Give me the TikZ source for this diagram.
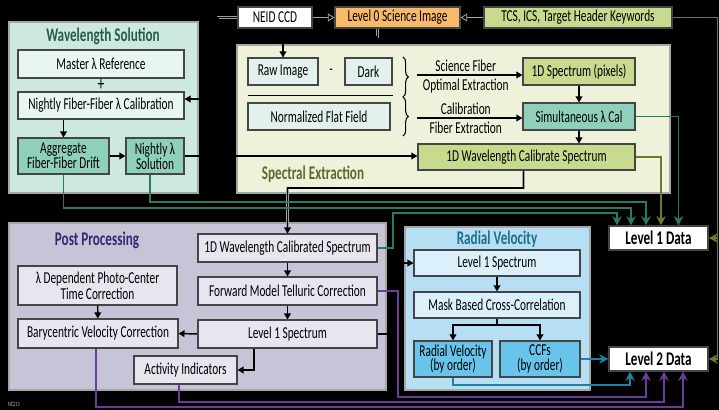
\documentclass[tikz,border=0pt]{standalone}
\usepackage{fontspec}
\setmainfont[FakeStretch=0.68]{Carlito}
\usepackage{tikz}
\usetikzlibrary{calc}
\usetikzlibrary{positioning}
\usetikzlibrary{arrows.meta}
\usetikzlibrary{decorations.pathreplacing}
\definecolor{wsfill}{HTML}{CDE8DF}
\definecolor{wslight}{HTML}{E9F5F1}
\definecolor{wsdark}{HTML}{8FD0BD}
\definecolor{wstext}{HTML}{245E4A}
\definecolor{spfill}{HTML}{EEF2DA}
\definecolor{splight}{HTML}{E3F1EE}
\definecolor{spolive}{HTML}{C8DA8E}
\definecolor{sptext}{HTML}{5B6B2C}
\definecolor{ppfill}{HTML}{C8C4D8}
\definecolor{pplight}{HTML}{E7E5EF}
\definecolor{pptext}{HTML}{2E2A70}
\definecolor{rvfill}{HTML}{B7DFF4}
\definecolor{rvlight}{HTML}{DCF0FB}
\definecolor{rvdark}{HTML}{68C4EA}
\definecolor{rvtext}{HTML}{1E6E8C}
\definecolor{lzfill}{HTML}{F8B969}
\definecolor{boxline}{HTML}{454545}
\definecolor{greenline}{HTML}{2A7A5E}
\definecolor{oliveline}{HTML}{6B7A2C}
\definecolor{purpleline}{HTML}{6A3D9A}
\definecolor{blueline}{HTML}{1F7FA6}
\newcommand{\unitpx}{0.75pt}
\tikzset{
	every node/.style={font=\fontsize{12.5}{13}\selectfont},
	sz/.style 2 args={minimum width=#1*\unitpx, minimum height=#2*\unitpx},
	box/.style={draw=boxline, line width=0.8pt, inner sep=0pt, align=center},
	panel/.style={draw=gray!70, line width=0.8pt, inner sep=0pt},
	ptitle/.style={font=\fontsize{14.5}{15}\selectfont\bfseries},
	leveldata/.style={box, fill=white, font=\fontsize{14.5}{15}\selectfont\bfseries},
	blk/.style={draw=black, line width=1.1pt, -{Triangle[length=4.5pt,width=5pt]}},
	halo/.style={preaction={draw=gray!75, line width=2.2pt, arrows=-}},
	feed/.style={draw=gray!70, line width=0.6pt, -{Triangle[open,length=5pt,width=6pt]}},
	colline/.style={draw=#1, line width=1.4pt, -{Stealth[length=7pt,width=7pt]}}
}

\begin{document}
\begin{tikzpicture}[x=\unitpx, y=-\unitpx]
	\fill[black] (0,0) rectangle (719,410);
	\useasboundingbox (0,0) rectangle (719,410);
	\node[panel, fill=wsfill, sz={189}{171}] (wspanel) at (103.5,107.5) {};
	\node[panel, fill=spfill, sz={433}{148}] (sppanel) at (453.5,119) {};
	\node[panel, fill=ppfill, sz={377}{167}] (pppanel) at (197.5,306.5) {};
	\node[panel, fill=rvfill, sz={185}{163}] (rvpanel) at (497.5,308.5) {};
	\node[ptitle, text=wstext] (wstitle) at (103,36) {Wavelength Solution};
	\node[ptitle, text=sptext] (sptitle) at (313,174) {Spectral Extraction};
	\node[ptitle, text=pptext] (pptitle) at (97,240) {Post Processing};
	\node[ptitle, text=rvtext] (rvtitle) at (497,239) {Radial Velocity};

	\node[box, fill=white, sz={74}{21}] (neid) at (275,17.5) {NEID CCD};
	\node[box, fill=lzfill, sz={125}{21}] (lvlzero) at (397.5,17.5) {Level 0 Science Image};
	\node[box, fill=spolive, sz={188}{21}] (tcs) at (578,17.5) {TCS, ICS, Target Header Keywords};

	\node[box, fill=wslight, sz={166}{28}] (master) at (101,64) {Master λ Reference};
	\node[font=\fontsize{15}{15}\selectfont] (plus) at (101,85) {+};
	\node[box, fill=wslight, sz={166}{27}] (nightcal) at (101,105.5) {Nightly Fiber-Fiber λ Calibration};
	\node[box, fill=wsdark, sz={91}{36}] (aggr) at (63.5,156) {Aggregate\\[-2pt]Fiber-Fiber Drift};
	\node[box, fill=wsdark, sz={58}{36}] (nightsol) at (155,156) {Nightly λ\\[-2pt]Solution};

	\node[box, fill=splight, sz={70}{27}] (raw) at (283,71.5) {Raw Image};
	\node (minus) at (331,71.5) {-};
	\node[box, fill=splight, sz={47}{27}] (dark) at (368.5,71.5) {Dark};
	\node[box, fill=splight, sz={142}{27}] (flat) at (319,116.5) {Normalized Flat Field};
	\node[box, fill=spolive, sz={112}{27}] (specpix) at (579,71.5) {1D Spectrum (pixels)};
	\node[box, fill=wsdark, sz={112}{27}] (simcal) at (579,116.5) {Simultaneous λ Cal};
	\node[box, fill=spolive, sz={217}{26}] (wcs) at (526.5,157) {1D Wavelength Calibrate Spectrum};

	\node[box, fill=pplight, sz={179}{28}] (ppwcs) at (287.5,248) {1D Wavelength Calibrated Spectrum};
	\node[box, fill=pplight, sz={179}{28}] (telluric) at (287.5,291) {Forward Model Telluric Correction};
	\node[box, fill=pplight, sz={179}{28}] (pplone) at (287.5,334) {Level 1 Spectrum};
	\node[box, fill=pplight, sz={159}{39}] (photo) at (97.5,285.5) {λ Dependent Photo-Center\\[-1pt]Time Correction};
	\node[box, fill=pplight, sz={160}{29}] (bary) at (98,333.5) {Barycentric Velocity Correction};
	\node[box, fill=pplight, sz={103}{28}] (activ) at (185.5,370) {Activity Indicators};

	\node[box, fill=rvlight, sz={166}{26}] (rvlone) at (497,263) {Level 1 Spectrum};
	\node[box, fill=rvlight, sz={166}{26}] (mask) at (497,305) {Mask Based Cross-Correlation};
	\node[box, fill=rvdark, sz={78}{36}] (rvorder) at (453,359) {Radial Velocity\\[-2pt](by order)};
	\node[box, fill=rvdark, sz={80}{36}] (ccf) at (540,359) {CCFs\\[-2pt](by order)};

	\node[leveldata, sz={99}{24}] (lvlone) at (658.5,238) {Level 1 Data};
	\node[leveldata, sz={99}{24}] (lvltwo) at (658.5,359) {Level 2 Data};
	\node[text=gray!60, font=\fontsize{5}{6}\selectfont] (figid) at (14,404) {NE215};

	\draw[black, line width=1.3pt] ($(raw.south west)+(1,10)$) -- ($(dark.south east)+(0,10)$);
	\draw[decorate, decoration={brace, amplitude=4pt}, line width=0.8pt] (403,57) -- (403,97);
	\draw[decorate, decoration={brace, amplitude=4pt}, line width=0.8pt] (403,97) -- (403,136);
	\coordinate (scistart) at (417,75);
	\coordinate (calstart) at (417,118);
	\draw[blk] (scistart) -- node[above=-1pt, xshift=-3pt] (scilabel) {Science Fiber} node[below=-1pt, xshift=-3pt] (optlabel) {Optimal Extraction} (scistart -| specpix.west);
	\draw[blk] (calstart) -- node[above=-1pt, xshift=-3pt] (callabel) {Calibration} node[below=-1pt, xshift=-3pt] (fiblabel) {Fiber Extraction} (calstart -| simcal.west);

	\draw[feed] (neid) -- (lvlzero);
	\draw[feed] (tcs) -- (lvlzero);
	\coordinate (ccdturn) at (218,99);
	\draw[blk, halo] (neid.west) -| (ccdturn) -- (ccdturn -| nightcal.east);
	\coordinate (rawturn) at (283,37);
	\draw[blk, halo] ($(lvlzero.south)+(-20,0)$) |- (rawturn) -- (raw.north);

	\draw[blk] (nightcal.south -| aggr.north) -- (aggr.north);
	\draw[blk] (aggr) -- (nightsol);
	\draw[blk] (specpix) -- (simcal);
	\draw[blk] (simcal) -- (simcal.south |- wcs.north);
	\draw[blk] (nightsol.east) -- (nightsol.east -| wcs.west);
	\coordinate (wcsturn) at (287.5,188);
	\draw[blk, halo] ($(wcs.south)+(-3,0)$) |- (wcsturn) -- (ppwcs.north);

	\draw[blk] (ppwcs) -- (telluric);
	\draw[blk] (telluric) -- (pplone);
	\draw[blk] (photo) -- (bary);
	\draw[blk] (pplone.west) -- (bary.east);
	\draw[blk] ($(pplone.south)+(-33.5,0)$) |- (activ.east);
	\coordinate (rvturn) at (388,263);
	\draw[blk, halo] (pplone.east) -| (rvturn) -- (rvlone.west);

	\draw[blk] (rvlone) -- (mask);
	\coordinate (maskturn) at (497,325);
	\draw[blk] (mask.south) -- (maskturn) -| (rvorder.north);
	\draw[blk] (maskturn) -| (ccf.north);

	\coordinate (ppgreen) at (393,213);
	\draw[colline=greenline] (ppwcs.east) -| (ppgreen) -| ($(lvlone.north)+(-41.5,0)$);
	\coordinate (aggrgreen) at (63.5,208);
	\draw[colline=greenline] (aggr.south) -- (aggrgreen) -| ($(lvlone.north)+(-27.5,0)$);
	\coordinate (solgreen) at (150,202);
	\draw[colline=greenline] ($(nightsol.south)+(-5,0)$) -- (solgreen) -| ($(lvlone.north)+(-12.5,0)$);
	\draw[colline=oliveline] (wcs.east) -| ($(lvlone.north)+(2.5,0)$);
	\draw[colline=greenline] (simcal.east) -| ($(lvlone.north)+(20,0)$);

	\coordinate (tcsturn) at (717.5,17.5);
	\draw[colline=oliveline] (tcs.east) -- (tcsturn) |- (lvlone.east);
	\draw[colline=oliveline] (tcsturn) |- (lvltwo.east);

	\draw[colline=blueline] (ccf.east) -- (lvltwo.west);
	\coordinate (rvblue) at (453,385);
	\draw[colline=blueline] (rvorder.south) -- (rvblue) -| ($(lvltwo.south)+(-28.5,0)$);
	\coordinate (tellpurple) at (398,397);
	\draw[colline=purpleline] (telluric.east) -| (tellpurple) -| ($(lvltwo.south)+(-12.5,0)$);
	\coordinate (activpurple) at (179,402);
	\draw[colline=purpleline] ($(activ.south)+(-6.5,0)$) -- (activpurple) -| ($(lvltwo.south)+(5.5,0)$);
	\coordinate (barypurple) at (96,407);
	\draw[colline=purpleline] ($(bary.south)+(-2,0)$) -- (barypurple) -| ($(lvltwo.south)+(24.5,0)$);
\end{tikzpicture}
\end{document}
